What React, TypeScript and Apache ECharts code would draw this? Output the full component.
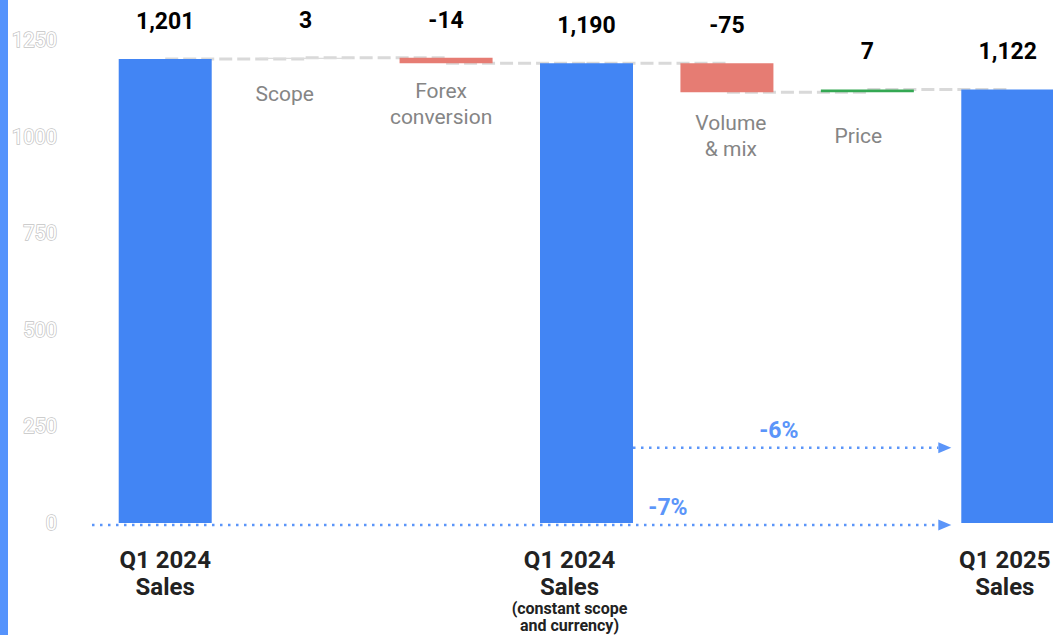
import React, { useEffect, useRef } from 'react';
import * as echarts from 'echarts';

// ---- data ----
const categories = [
  'Q1 2024 Sales',
  'Scope',
  'Forex conversion',
  'Q1 2024 Sales (constant scope and currency)',
  'Volume & mix',
  'Price',
  'Q1 2025 Sales',
];
const values = [1201, 3, -14, 1190, -75, 7, 1122];
const isTotal = [true, false, false, true, false, false, true];
const axisTitles = ['Q1 2024\nSales', '', '', 'Q1 2024\nSales', '', '', 'Q1 2025\nSales'];
const axisNotes = ['', '', '', '(constant scope\nand currency)', '', '', ''];
const stepLabels = ['', 'Scope', 'Forex\nconversion', '', 'Volume\n& mix', 'Price', ''];
const yTicks = [0, 250, 500, 750, 1000, 1250];
const growthLabels = ['-7%', '-6%'];
const growthFrom = [0, 3];
const growthTo = [6, 6];
const growthLevel = [-5, 195];
const growthLabelAt = [3.58, 4.37];

// ---- styles ----
const BLUE = '#4285f4';
const RED = '#e67c73';
const GREEN = '#34a853';
const GREY = '#dcdcdc';
const ARROW = '#5b95f9';
const barColors = [BLUE, GREY, RED, BLUE, RED, GREEN, BLUE];
const stepLabelGap = [0, 22, 15, 0, 18, 31, 0];
const stepLabelShift = [0, -21, -5, 0, 4, -9, 0];
const axisLabelShiftPad = [0, 0, 0, 34, 0, 0, 6];
const growthStartSide = ['band', 'bar'];
const BAR_W = 93;
const FONT = 'Roboto, "Noto Sans", sans-serif';

// waterfall computation
const bases: number[] = [];
const heights: number[] = [];
const levels: number[] = [];
let run = 0;
values.forEach((v, i) => {
  if (isTotal[i]) {
    bases.push(0);
    heights.push(v);
    run = v;
  } else {
    const start = run;
    run += v;
    bases.push(Math.min(start, run));
    heights.push(Math.abs(v));
  }
  levels.push(run);
});

const fmt = (n: number) => n.toLocaleString('en-US');

const richStyles: Record<string, any> = {};
axisLabelShiftPad.forEach((pad, i) => {
  richStyles['t' + i] = {
    fontSize: 24,
    fontWeight: 'bold',
    color: '#222',
    lineHeight: 27,
    fontFamily: FONT,
    padding: [0, pad, 0, 0],
  };
  richStyles['s' + i] = {
    fontSize: 16,
    fontWeight: 'bold',
    color: '#222',
    lineHeight: 17,
    fontFamily: FONT,
    padding: [0, pad, 0, 0],
  };
});

export default function App() {
  const ref = useRef<HTMLDivElement>(null);
  useEffect(() => {
    if (!ref.current) return;
    const chart = echarts.init(ref.current, undefined, { renderer: 'svg' });
    const connectorData = levels.slice(0, levels.length - 1).map((l, i) => [i, l]);
    const growthData = growthFrom.map((f, i) => [f, growthLevel[i]]);
    chart.setOption({
      animation: false,
      backgroundColor: '#fff',
      grid: { left: 95, right: 2, top: 40, bottom: 112 },
      xAxis: {
        type: 'category',
        data: categories,
        axisLine: { show: false },
        axisTick: { show: false },
        axisLabel: {
          interval: 0,
          margin: 23,
          verticalAlign: 'top',
          formatter: (_v: string, idx: number) => {
            const parts: string[] = [];
            if (axisTitles[idx]) axisTitles[idx].split('\n').forEach((t) => parts.push(`{t${idx}|${t}}`));
            if (axisNotes[idx]) axisNotes[idx].split('\n').forEach((t) => parts.push(`{s${idx}|${t}}`));
            return parts.join('\n');
          },
          rich: richStyles,
        },
      },
      yAxis: {
        type: 'value',
        min: yTicks[0],
        max: yTicks[yTicks.length - 1],
        interval: yTicks[1] - yTicks[0],
        axisLine: { show: false },
        axisTick: { show: false },
        splitLine: { show: false },
        axisLabel: {
          margin: 38,
          fontSize: 20,
          fontFamily: FONT,
          color: '#ffffff',
          textBorderColor: '#c4c4c4',
          textBorderWidth: 1.5,
          formatter: (v: number) => String(v),
        },
      },
      series: [
        {
          type: 'custom',
          name: 'connectors',
          z: 1,
          clip: false,
          data: connectorData,
          renderItem: (_p: any, api: any) => {
            const i = api.value(0);
            const lvl = api.value(1);
            const p1 = api.coord([i, lvl]);
            const p2 = api.coord([i + 1, lvl]);
            return {
              type: 'line',
              shape: { x1: p1[0], y1: p1[1], x2: p2[0], y2: p2[1] },
              style: { stroke: '#d9d9d9', lineWidth: 3, lineDash: [13, 5] },
            };
          },
        },
        {
          type: 'bar',
          name: 'base',
          stack: 'w',
          barWidth: BAR_W,
          z: 2,
          data: bases.map((b, i) => ({
            value: b,
            itemStyle: { color: 'rgba(0,0,0,0)' },
            label: {
              show: !isTotal[i],
              position: 'insideTop',
              distance: stepLabelGap[i],
              offset: [stepLabelShift[i], 0],
              formatter: () => stepLabels[i],
              color: '#858585',
              fontSize: 21,
              lineHeight: 26,
              fontFamily: FONT,
              align: 'center',
            },
          })),
        },
        {
          type: 'bar',
          name: 'value',
          stack: 'w',
          barWidth: BAR_W,
          z: 3,
          data: heights.map((h, i) => ({
            value: h,
            itemStyle: { color: barColors[i] },
          })),
          label: {
            show: true,
            position: 'top',
            distance: 26,
            formatter: (p: any) => fmt(values[p.dataIndex]),
            color: '#000',
            fontSize: 23,
            fontWeight: 'bold',
            fontFamily: FONT,
            textBorderColor: '#fff',
            textBorderWidth: 3,
          },
        },
        {
          type: 'custom',
          name: 'growth',
          z: 5,
          clip: false,
          data: growthData,
          renderItem: (params: any, api: any) => {
            const i = params.dataIndex;
            const band = api.size([1, 0])[0];
            const p0 = api.coord([growthFrom[i], growthLevel[i]]);
            const pe = api.coord([growthTo[i], growthLevel[i]]);
            const y = p0[1];
            const startX = growthStartSide[i] === 'band' ? p0[0] - band / 2 - 3 : p0[0] + BAR_W / 2;
            const tipX = pe[0] - BAR_W / 2 - 10;
            const at = growthLabelAt[i];
            const base = Math.floor(at);
            const pl = api.coord([base, growthLevel[i]]);
            const tx = pl[0] + (at - base) * band;
            return {
              type: 'group',
              children: [
                {
                  type: 'line',
                  shape: { x1: startX, y1: y, x2: tipX - 13, y2: y },
                  style: { stroke: ARROW, lineWidth: 2.5, lineDash: [2.5, 5.5] },
                },
                {
                  type: 'polygon',
                  shape: { points: [[tipX, y], [tipX - 13, y - 5.5], [tipX - 13, y + 5.5]] },
                  style: { fill: ARROW },
                },
                {
                  type: 'text',
                  style: {
                    text: growthLabels[i],
                    x: tx,
                    y: y - 17,
                    fill: ARROW,
                    font: `bold 23px ${FONT}`,
                    align: 'center',
                    verticalAlign: 'middle',
                  },
                },
              ],
            };
          },
        },
      ],
    });
    return () => chart.dispose();
  }, []);

  return (
    <div
      style={{
        position: 'fixed',
        left: 0,
        top: 0,
        width: 1053,
        height: 635,
        overflow: 'hidden',
        background: '#fff',
      }}
    >
      <div ref={ref} style={{ position: 'absolute', left: 0, top: 0, width: 1080, height: 635 }} />
      <div style={{ position: 'absolute', left: 0, top: 0, width: 8, height: 635, background: '#5593fc' }} />
    </div>
  );
}
